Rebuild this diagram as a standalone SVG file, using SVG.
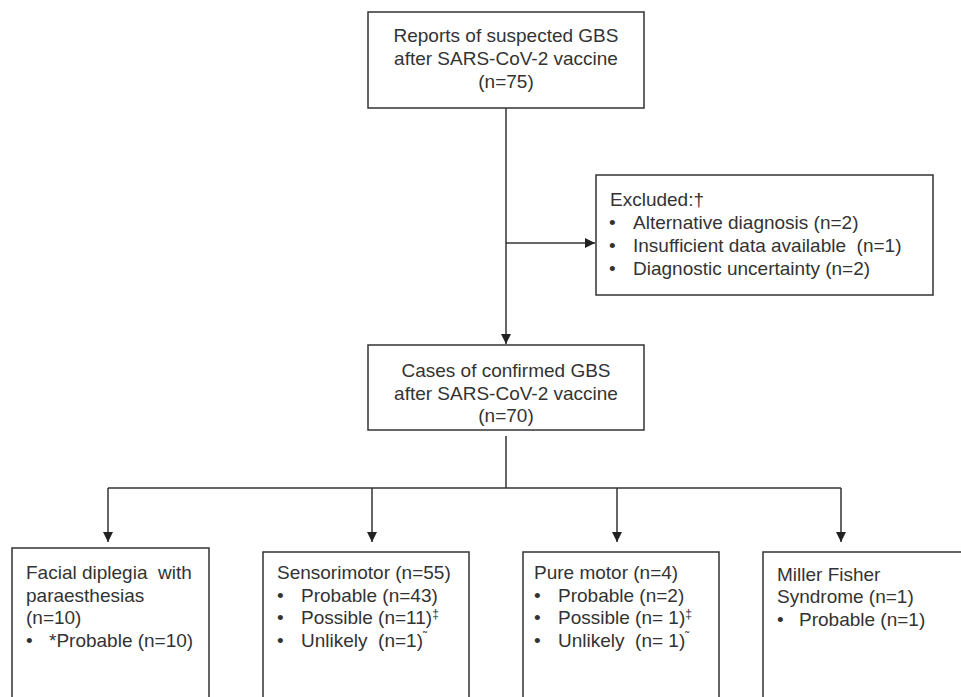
<svg xmlns="http://www.w3.org/2000/svg" width="961" height="697" viewBox="0 0 961 697">
<defs>
<style>
.box{fill:#fff;stroke:#333;stroke-width:1.5}
.ln{fill:none;stroke:#333;stroke-width:1.5}
text{font-family:"Liberation Sans",Arial,sans-serif;font-size:19px;fill:#333}
.c{text-anchor:middle}
.sup{font-size:12px}
</style>
<marker id="ah" markerUnits="userSpaceOnUse" viewBox="0 0 10 10" markerWidth="10" markerHeight="10" refX="10" refY="5" orient="auto">
<path d="M0,0 L10,5 L0,10 z" fill="#222"/>
</marker>
</defs>
<rect width="961" height="697" fill="#fff"/>
<g id="connectors">
<path class="ln" d="M506,108 V344" marker-end="url(#ah)"/>
<path class="ln" d="M506,243 H595" marker-end="url(#ah)"/>
<path class="ln" d="M506,436 V488"/>
<path class="ln" d="M108,488 H841"/>
<path class="ln" d="M108,488 V542" marker-end="url(#ah)"/>
<path class="ln" d="M372,488 V542" marker-end="url(#ah)"/>
<path class="ln" d="M617,488 V542" marker-end="url(#ah)"/>
<path class="ln" d="M841,488 V542" marker-end="url(#ah)"/>
</g>
<g id="reports">
<rect class="box" x="368" y="12" width="276" height="96"/>
<text class="c" x="506" y="42">Reports of suspected GBS</text>
<text class="c" x="506" y="65">after SARS-CoV-2 vaccine</text>
<text class="c" x="506" y="88">(n=75)</text>
</g>
<g id="excluded">
<rect class="box" x="596" y="175" width="337" height="120"/>
<text x="610" y="206">Excluded:†</text>
<text x="609" y="229">•</text><text x="633" y="229">Alternative diagnosis (n=2)</text>
<text x="609" y="252">•</text><text x="633" y="252" xml:space="preserve">Insufficient data available  (n=1)</text>
<text x="609" y="275">•</text><text x="633" y="275">Diagnostic uncertainty (n=2)</text>
</g>
<g id="confirmed">
<rect class="box" x="368" y="345" width="276" height="85"/>
<text class="c" x="506" y="377">Cases of confirmed GBS</text>
<text class="c" x="506" y="399.5">after SARS-CoV-2 vaccine</text>
<text class="c" x="506" y="422">(n=70)</text>
</g>
<g id="facial">
<rect class="box" x="12" y="548" width="197" height="160"/>
<text x="26" y="579" xml:space="preserve">Facial diplegia  with</text>
<text x="26" y="602">paraesthesias</text>
<text x="26" y="624">(n=10)</text>
<text x="26" y="647">•</text><text x="49" y="647">*Probable (n=10)</text>
</g>
<g id="sensorimotor">
<rect class="box" x="263" y="552" width="206" height="160"/>
<text x="277" y="579">Sensorimotor (n=55)</text>
<text x="277" y="602">•</text><text x="301" y="602">Probable (n=43)</text>
<text x="277" y="624">•</text><text x="301" y="624">Possible (n=11)<tspan class="sup" dy="-6">‡</tspan></text>
<text x="277" y="647">•</text><text x="301" y="647" xml:space="preserve">Unlikely  (n=1)<tspan class="sup" dy="-6">˜</tspan></text>
</g>
<g id="puremotor">
<rect class="box" x="523" y="552" width="196" height="160"/>
<text x="534" y="579">Pure motor (n=4)</text>
<text x="534" y="602">•</text><text x="558" y="602">Probable (n=2)</text>
<text x="534" y="624">•</text><text x="558" y="624">Possible (n= 1)<tspan class="sup" dy="-6">‡</tspan></text>
<text x="534" y="647">•</text><text x="558" y="647" xml:space="preserve">Unlikely  (n= 1)<tspan class="sup" dy="-6">˜</tspan></text>
</g>
<g id="millerfisher">
<rect class="box" x="763" y="552" width="210" height="160"/>
<text x="777" y="581">Miller Fisher</text>
<text x="777" y="603">Syndrome (n=1)</text>
<text x="777" y="626">•</text><text x="799" y="626">Probable (n=1)</text>
</g>
</svg>
